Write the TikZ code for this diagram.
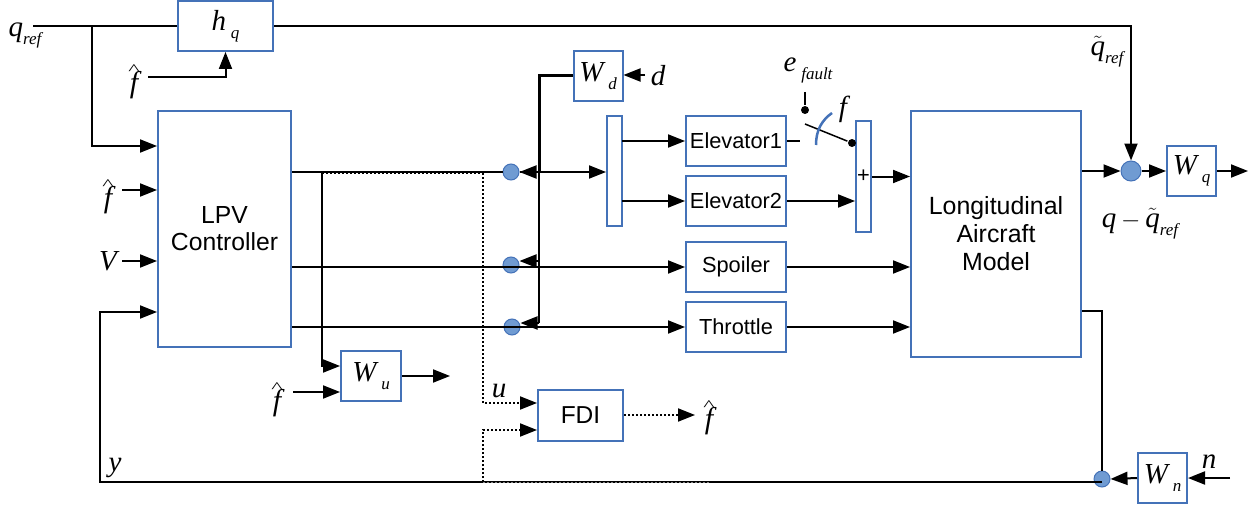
\documentclass[tikz,border=0pt]{standalone}
\usepackage{fontspec}
\setmainfont{Liberation Sans}
\newfontfamily\symfont{Liberation Serif}
\usetikzlibrary{arrows.meta}
\definecolor{boxblue}{RGB}{68,114,184}
\definecolor{dotblue}{RGB}{112,155,210}
% italic symbol with a lowered index
\newcommand{\symsub}[2]{{\symfont\itshape\fontsize{29}{29}\selectfont #1\,\raisebox{-8pt}{\fontsize{17}{17}\selectfont #2}}}
\newcommand{\hatsym}{{\symfont\itshape\fontsize{30}{30}\selectfont\ooalign{f\cr\hidewidth\raisebox{18pt}[0pt][0pt]{\scalebox{0.8}[0.5]{\upshape\^{}}}\hidewidth\cr}}}
\newcommand{\tildesym}{{\fontsize{29}{29}\selectfont$\tilde{\hbox{\symfont\itshape q}}$}}
\newcommand{\refsub}{\raisebox{-8pt}{\fontsize{17}{17}\selectfont ref}}
\tikzset{every picture/.style={line width=2pt},
	blockbox/.style={draw=boxblue,fill=white,line width=2pt,inner sep=0pt,align=center,font=\fontsize{21.8}{27}\selectfont},
	sumdot/.style={circle,draw=boxblue,fill=dotblue,line width=1pt,inner sep=0pt,minimum size=16pt},
	pindot/.style={circle,fill=black,inner sep=0pt,minimum size=8pt},
	sigline/.style={draw=black,line width=2pt},
	sigarrow/.style={sigline,-{Triangle[length=17pt,width=13pt]}},
	dotarrow/.style={sigarrow,dash pattern=on 2pt off 2pt},
	symlabel/.style={inner sep=0.75pt,anchor=center,font=\fontsize{29}{29}\selectfont\symfont\itshape}}

\begin{document}
\begin{tikzpicture}[x=1pt,y=1pt,yscale=-1,xscale=1]
	\useasboundingbox (0,0) rectangle (1260,508);

	%Shape: blocks
	\node [blockbox,minimum width=95pt,minimum height=50pt] (hq) at (225.5,26) {\symsub{h}{q}};
	\node [blockbox,minimum width=133pt,minimum height=236pt,font=\fontsize{24.7}{27}\selectfont] (lpv) at (224.5,229) {\raisebox{-1pt}{LPV}\\\raisebox{-1pt}{Controller}};
	\node [blockbox,minimum width=49pt,minimum height=50pt] (wd) at (598,76) {\symsub{W}{d}};
	\node [blockbox,minimum width=15pt,minimum height=110pt] (mux) at (614.5,171) {};
	\node [blockbox,minimum width=100pt,minimum height=50pt] (elevone) at (736,141) {\raisebox{-1pt}{Elevator1}};
	\node [blockbox,minimum width=100pt,minimum height=50pt] (elevtwo) at (736,201) {\raisebox{-1pt}{Elevator2}};
	\node [blockbox,minimum width=100pt,minimum height=50pt] (spoiler) at (736,267) {\raisebox{-2pt}{Spoiler}};
	\node [blockbox,minimum width=100pt,minimum height=50pt] (throttle) at (736,327) {Throttle};
	\node [blockbox,minimum width=15pt,minimum height=111pt] (adder) at (863.5,176.5) {+};
	\node [blockbox,minimum width=170pt,minimum height=246pt,font=\fontsize{24.9}{28}\selectfont] (model) at (996,234) {\raisebox{-1pt}{Longitudinal}\\\raisebox{-1pt}{Aircraft}\\\raisebox{-1pt}{Model}};
	\node [blockbox,minimum width=49pt,minimum height=50pt] (wq) at (1191.5,171) {\symsub{W}{q}};
	\node [blockbox,minimum width=49pt,minimum height=50pt] (wn) at (1162.5,478) {\symsub{W}{n}};
	\node [blockbox,minimum width=60pt,minimum height=50pt] (wu) at (371,376) {\symsub{W}{u}};
	\node [blockbox,minimum width=85pt,minimum height=51pt,font=\fontsize{24.5}{27}\selectfont] (fdi) at (580.5,415.5) {FDI};

	%Shape: summing dots
	\node [sumdot] (sumu) at (511,172) {};
	\node [sumdot] (sums) at (511,265) {};
	\node [sumdot] (sumt) at (512,327) {};
	\node [sumdot,minimum size=20pt] (sumq) at (1131,171) {};
	\node [sumdot] (sumn) at (1102,479) {};
	\node [pindot] (pinfault) at (805,110) {};
	\node [pindot] (pinadder) at (852,143) {};

	% Text Node
	\node [symlabel] (qref) at (25,35) {q\refsub};
	\node [symlabel] (fhq) at (134,82) {\hatsym};
	\node [symlabel] (flpv) at (108,197) {\hatsym};
	\node [symlabel] (vlab) at (108,261) {V};
	\node [symlabel] (ylab) at (115,468) {y};
	\node [symlabel] (fwu) at (277,400) {\hatsym};
	\node [symlabel] (ulab) at (499,391) {u};
	\node [symlabel] (ffdi) at (709,418) {\hatsym};
	\node [symlabel] (dlab) at (658,76) {d};
	\node [symlabel] (nlab) at (1209,462) {n};
	\node [symlabel] (flab) at (843,109) {f};
	\node [symlabel] (efault) at (808,70) {\symsub{e}{fault}};
	\node [symlabel] (qtilde) at (1107,52) {\tildesym\refsub};
	\node [symlabel] (qdiff) at (1140,224) {q\,{\normalfont$-$}\,\tildesym\refsub};

	% free ends
	\coordinate (qstart) at (33,26);
	\coordinate (qbranch) at (92,26);
	\coordinate (lpvq) at (92,146);
	\coordinate (fhqin) at (148,77);
	\coordinate (flpvin) at (122,190);
	\coordinate (vin) at (122,261);
	\coordinate (ybus) at (100,482);
	\coordinate (yin) at (100,312);
	\coordinate (fwuin) at (293,392);
	\coordinate (wutap) at (322,172);
	\coordinate (wuin) at (322,366);
	\coordinate (wuout) at (450,376);
	\coordinate (trunk) at (539,76);
	\coordinate (trunks) at (539,261);
	\coordinate (trunkt) at (539,323);
	\coordinate (dottop) at (483,173);
	\coordinate (dotu) at (483,403);
	\coordinate (dotq) at (483,430);
	\coordinate (dotbus) at (483,482);
	\coordinate (dotbusend) at (710,482);
	\coordinate (muxtop) at (622,141);
	\coordinate (muxbot) at (622,201);
	\coordinate (stubend) at (800,141);
	\coordinate (faulttop) at (805,92);
	\coordinate (bladeend) at (805,124);
	\coordinate (arcstart) at (816,145);
	\coordinate (arcend) at (832,113);
	\coordinate (fdiout) at (695,415);
	\coordinate (dstart) at (645,75);
	\coordinate (qtop) at (1131,26);
	\coordinate (wqout) at (1248,171);
	\coordinate (modelout) at (1102,311);
	\coordinate (nstart) at (1230,478);

	%Shape: reference path
	\draw [sigline] (qstart) -- (hq.west |- qstart);
	\draw [sigarrow] (qbranch) -- (lpvq) -- (lpvq -| lpv.west);
	\draw [sigarrow] (fhqin) -- (fhqin -| hq.south) -- (hq.south);
	\draw [sigarrow] (hq.east) -- (qtop) -- (sumq.north);

	%Shape: controller inputs
	\draw [sigarrow] (flpvin) -- (flpvin -| lpv.west);
	\draw [sigarrow] (vin) -- (vin -| lpv.west);
	\draw [sigarrow] (sumn |- ybus) -- (ybus) -- (yin) -- (yin -| lpv.west);

	%Shape: controller outputs
	\draw [sigline] (lpv.east |- sumu) -- (sumu);
	\draw [sigarrow] (sumu) -- (sumu -| mux.west);
	\draw [sigarrow] (lpv.east |- spoiler) -- (spoiler.west);
	\draw [sigarrow] (lpv.east |- throttle) -- (throttle.west);
	\draw [sigarrow] (wutap) -- (wuin) -- (wuin -| wu.west);
	\draw [sigarrow] (fwuin) -- (fwuin -| wu.west);
	\draw [sigarrow] (wu.east) -- (wuout);

	%Shape: disturbance
	\draw [sigarrow] (dstart) -- (dstart -| wd.east);
	\draw [sigline,line width=3pt] (wd.west) -- (trunk) -- (trunk |- sumu);
	\draw [sigline] (trunk |- sumu) -- (trunkt);
	\draw [sigarrow] (trunk |- sumu) -- (sumu.east);
	\draw [sigarrow] (trunks) -- (trunks -| sums.east);
	\draw [sigarrow] (trunkt) -- (trunkt -| sumt.east);

	%Shape: surfaces
	\draw [sigarrow] (muxtop) -- (elevone.west);
	\draw [sigarrow] (muxbot) -- (elevtwo.west);
	\draw [sigline] (elevone.east) -- (stubend);
	\draw [sigarrow] (elevtwo.east) -- (elevtwo.east -| adder.west);
	\draw [sigarrow] (adder.east) -- (adder.east -| model.west);
	\draw [sigarrow] (spoiler.east) -- (spoiler.east -| model.west);
	\draw [sigarrow] (throttle.east) -- (throttle.east -| model.west);

	%Shape: fault switch
	\draw [sigline,line width=1.5pt] (faulttop) -- (pinfault);
	\draw [sigline,line width=1.5pt] (bladeend) -- (pinadder);
	\draw [draw=boxblue,line width=2.5pt] (arcstart) .. controls (816,130) and (822,120) .. (arcend);

	%Shape: FDI signals
	\draw [sigline,dash pattern=on 2pt off 2pt,line width=1.5pt] (wutap |- dottop) -- (dottop);
	\draw [dotarrow] (dottop) -- (dotu) -- (dotu -| fdi.west);
	\draw [dotarrow] (dotbus) -- (dotq) -- (dotq -| fdi.west);
	\draw [sigline,draw=gray,dash pattern=on 2pt off 2pt,line width=1pt] (dotbus) -- (dotbusend);
	\draw [dotarrow] (fdi.east |- fdiout) -- (fdiout);

	%Shape: model outputs
	\draw [sigarrow] (model.east |- sumq) -- (sumq.west);
	\draw [sigarrow] (sumq.east) -- (wq.west);
	\draw [sigarrow] (wq.east) -- (wqout);
	\draw [sigline] (model.east |- modelout) -- (modelout) -- (sumn.north);
	\draw [sigarrow] (wn.west) -- (sumn.east);
	\draw [sigarrow] (nstart) -- (nstart -| wn.east);
\end{tikzpicture}
\end{document}
